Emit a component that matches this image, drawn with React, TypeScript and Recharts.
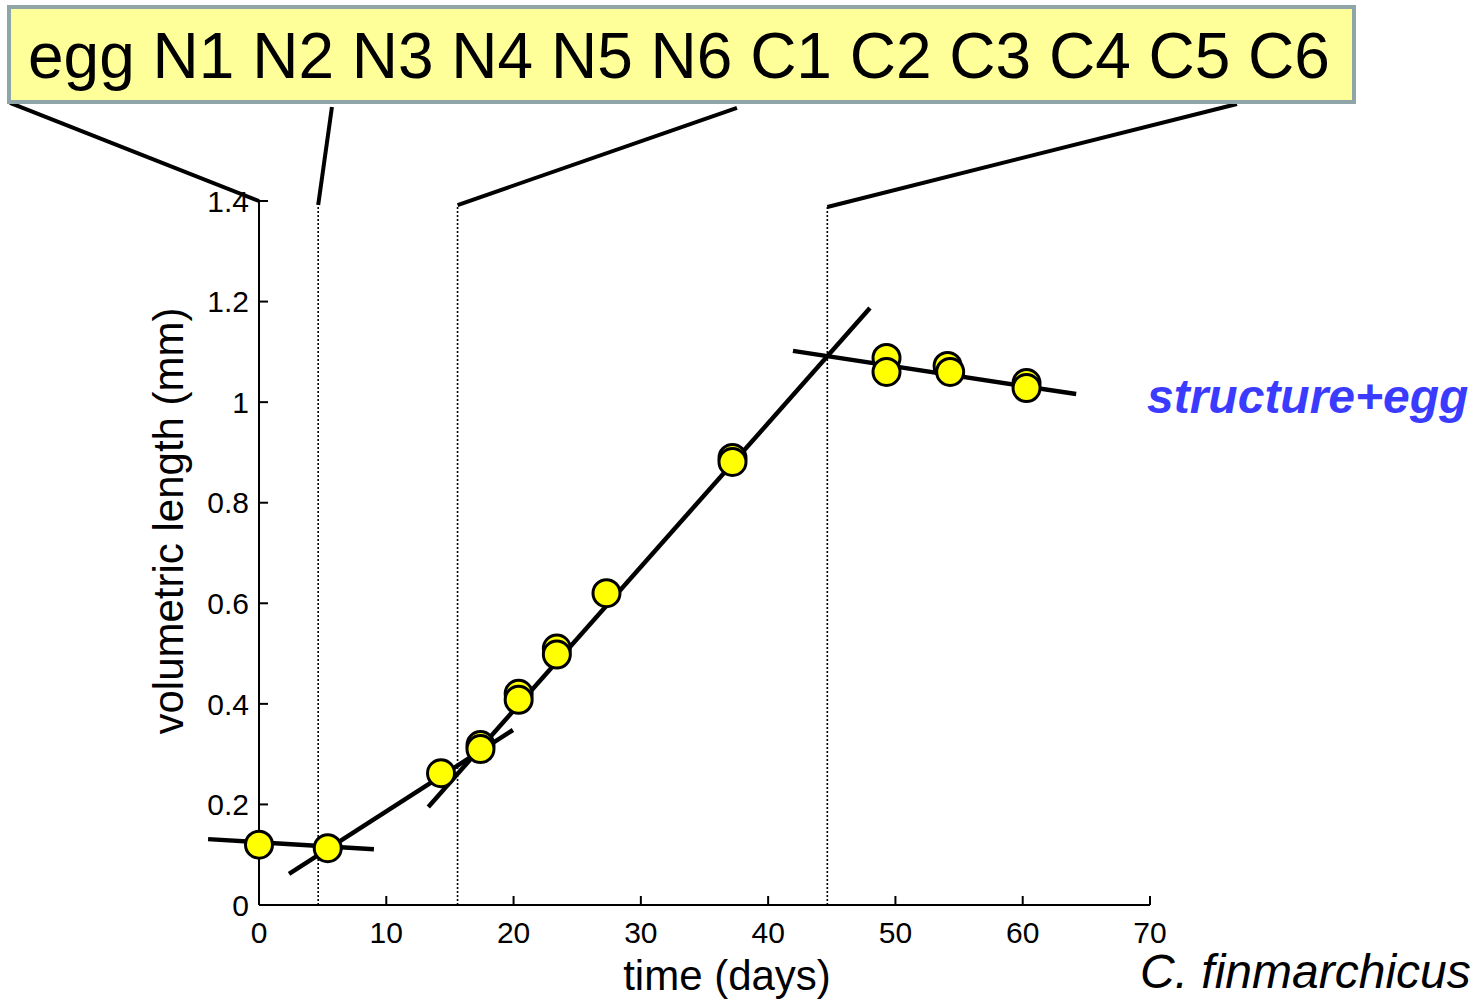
import React from "react"
import { ComposedChart, Scatter, XAxis, YAxis, ReferenceLine } from "recharts"

// observations: day vs volumetric length (mm)
const obsDays = [0, 5.4, 14.3, 17.4, 17.4, 20.4, 20.4, 23.4, 23.4, 27.3, 37.2, 37.2, 49.3, 49.3, 54.1, 54.3, 60.3, 60.3]
const obsLength = [0.12, 0.113, 0.262, 0.318, 0.31, 0.42, 0.408, 0.51, 0.498, 0.62, 0.889, 0.881, 1.088, 1.06, 1.072, 1.06, 1.038, 1.028]

// fitted segments [x1, y1, x2, y2]
const fitLines = [
  [-4.0, 0.131, 9.03, 0.111],
  [2.36, 0.062, 19.95, 0.348],
  [13.3, 0.195, 48.0, 1.187],
  [41.95, 1.102, 64.2, 1.016],
]

// stage boundaries (days) and top of dotted marker
const stageDays = [4.65, 15.6, 44.65]
const stageTop = [1.392, 1.392, 1.388]

// connectors from the stage box down to the chart [x1, y1, x2, y2]
const connectors = [
  [-19.56, 1.595, 0, 1.4],
  [5.73, 1.587, 4.65, 1.392],
  [37.55, 1.585, 15.6, 1.392],
  [76.83, 1.593, 44.65, 1.388],
]

const stages = ["egg", "N1", "N2", "N3", "N4", "N5", "N6", "C1", "C2", "C3", "C4", "C5", "C6"]
const xTicks = [0, 10, 20, 30, 40, 50, 60, 70]
const yTicks = [0, 0.2, 0.4, 0.6, 0.8, 1, 1.2, 1.4]

const FONT = '"Liberation Sans", Arial, sans-serif'

const points = obsDays.map((d, i) => ({ x: d, y: obsLength[i] }))

const YTick = (props: any) => {
  const { x, y, payload } = props
  return (
    <g>
      <line x1={x} y1={y} x2={x + 9} y2={y} stroke="#000" strokeWidth={2} />
      <text x={x - 10} y={y} dy="0.355em" textAnchor="end" fontSize={30} fontFamily={FONT} fill="#000">
        {String(payload.value)}
      </text>
    </g>
  )
}

const XTick = (props: any) => {
  const { x, y, payload } = props
  return (
    <g>
      <line x1={x} y1={y} x2={x} y2={y - 9} stroke="#000" strokeWidth={2} />
      <text x={x} y={y + 17} dy="0.71em" textAnchor="middle" fontSize={30} fontFamily={FONT} fill="#000">
        {String(payload.value)}
      </text>
    </g>
  )
}

const Dot = (props: any) => (
  <circle cx={props.cx} cy={props.cy} r={13.5} fill="#FFFF00" stroke="#000" strokeWidth={3} />
)

export default function App() {
  return (
    <div style={{ position: "absolute", left: 0, top: 0, width: 1475, height: 1002, background: "#fff" }}>
      <ComposedChart
        width={1475}
        height={1002}
        margin={{ top: 201, right: 325, left: 199, bottom: 57 }}
      >
        <XAxis
          type="number"
          dataKey="x"
          domain={[0, 70]}
          ticks={xTicks}
          interval={0}
          height={40}
          tickSize={0}
          tickMargin={0}
          tickLine={false}
          axisLine={{ stroke: "#000", strokeWidth: 2 }}
          tick={XTick}
        />
        <YAxis
          type="number"
          dataKey="y"
          domain={[0, 1.4]}
          ticks={yTicks}
          interval={0}
          width={60}
          tickSize={0}
          tickMargin={0}
          tickLine={false}
          axisLine={{ stroke: "#000", strokeWidth: 2 }}
          tick={YTick}
        />
        {stageDays.map((d, i) => (
          <ReferenceLine
            key={"s" + i}
            segment={[{ x: d, y: 0 }, { x: d, y: stageTop[i] }]}
            stroke="#000"
            strokeWidth={1.6}
            strokeDasharray="2 2"
            ifOverflow="visible"
          />
        ))}
        {connectors.map((c, i) => (
          <ReferenceLine
            key={"c" + i}
            segment={[{ x: c[0], y: c[1] }, { x: c[2], y: c[3] }]}
            stroke="#000"
            strokeWidth={4}
            ifOverflow="visible"
          />
        ))}
        {fitLines.map((f, i) => (
          <ReferenceLine
            key={"f" + i}
            segment={[{ x: f[0], y: f[1] }, { x: f[2], y: f[3] }]}
            stroke="#000"
            strokeWidth={4.5}
            ifOverflow="visible"
          />
        ))}
        <Scatter data={points} dataKey="y" shape={Dot} isAnimationActive={false} />
      </ComposedChart>

      <svg
        width={1475}
        height={1002}
        style={{ position: "absolute", left: 0, top: 0, pointerEvents: "none" }}
      >
        <rect x={9} y={7} width={1345} height={95} fill="#FFFF99" stroke="#8FA5A8" strokeWidth={4} />
        <text x={28} y={78} fontSize={64} fontFamily={FONT} fill="#000">
          {stages.join(" ")}
        </text>
        <text x={1147} y={413} fontSize={48} fontWeight="bold" fontStyle="italic" fontFamily={FONT} fill="#3B3BFF">
          structure+egg
        </text>
        <text x={1140} y={988} fontSize={48} fontStyle="italic" fontFamily={FONT} fill="#000">
          C. finmarchicus
        </text>
        <text x={727} y={990} fontSize={42} textAnchor="middle" fontFamily={FONT} fill="#000">
          time (days)
        </text>
        <text
          x={0}
          y={0}
          transform="translate(183 521) rotate(-90)"
          fontSize={42}
          textAnchor="middle"
          fontFamily={FONT}
          fill="#000"
        >
          volumetric length (mm)
        </text>
      </svg>
    </div>
  )
}
